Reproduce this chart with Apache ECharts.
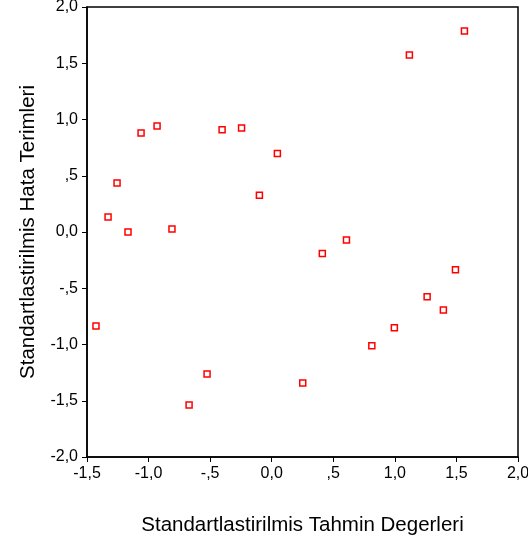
<!DOCTYPE html>
<html>
<head>
    <meta charset="utf-8">
    <title>Standart artik grafigi</title>
    <style>
        html, body { margin: 0; padding: 0; background: #fff; }
        #main { width: 528px; height: 541px; }
    </style>
</head>
<body>
    <div id="main"></div>
    <script src="https://cdn.jsdelivr.net/npm/echarts@6/dist/echarts.min.js"></script>
    <script>
        // tahmin (x) ve hata (y) degerleri
        var predicted = [-1.427, -1.329, -1.256, -1.167, -1.061, -0.931, -0.81, -0.671, -0.525, -0.403, -0.245,
                         0.046, -0.10, 0.252, 0.411, 0.607, 0.813, 0.996, 1.262, 1.394, 1.492, 1.118, 1.565];
        var residuals = [-0.836, 0.133, 0.436, 0.0, 0.88, 0.942, 0.027, -1.538, -1.262, 0.909, 0.924,
                         0.698, 0.326, -1.342, -0.19, -0.071, -1.01, -0.85, -0.575, -0.693, -0.335, 1.573, 1.787];
        var xTicks = [-1.5, 2.0, 0.5];   // min, max, aralik
        var yTicks = [-2.0, 2.0, 0.5];

        var points = predicted.map(function (x, i) { return [x, residuals[i]]; });

        // SPSS tarzi: 0,5 -> ",5"  -0,5 -> "-,5"
        function fmt(v) {
            var s = Math.abs(v).toFixed(1).replace('.', ',');
            if (Math.abs(v) < 1 && v !== 0) s = s.substring(1);
            return (v < 0 ? '-' : '') + s;
        }

        var font = 'Liberation Sans, Arial, sans-serif';
        var chart = echarts.init(document.getElementById('main'));
        var option = {
            animation: false,
            grid: {
                left: 87, top: 7, right: 10, bottom: 84,
                outerBoundsMode: 'none',
                show: true, borderColor: '#000', borderWidth: 1.5, backgroundColor: '#fff'
            },
            xAxis: {
                type: 'value',
                min: xTicks[0], max: xTicks[1], interval: xTicks[2],
                name: 'Standartlastirilmis Tahmin Degerleri',
                nameLocation: 'middle', nameGap: 58,
                nameTextStyle: { fontFamily: font, fontSize: 20.5, color: '#000' },
                axisLine: { onZero: false, lineStyle: { color: '#000', width: 1.5 } },
                axisTick: { length: 5, lineStyle: { color: '#000' } },
                axisLabel: { formatter: fmt, fontFamily: font, fontSize: 16, color: '#000', margin: 9 },
                splitLine: { show: false }
            },
            yAxis: {
                type: 'value',
                min: yTicks[0], max: yTicks[1], interval: yTicks[2],
                name: 'Standartlastirilmis Hata Terimleri',
                nameLocation: 'middle', nameGap: 48, nameRotate: 90,
                nameTextStyle: { fontFamily: font, fontSize: 20.5, color: '#000' },
                axisLine: { onZero: false, lineStyle: { color: '#000', width: 1.5 } },
                axisTick: { length: 5, lineStyle: { color: '#000' } },
                axisLabel: { formatter: fmt, fontFamily: font, fontSize: 16, color: '#000', margin: 9 },
                splitLine: { show: false }
            },
            series: [{
                type: 'scatter',
                data: points,
                symbol: 'rect',
                symbolSize: 6,
                itemStyle: { color: '#fff', borderColor: '#ff0000', borderWidth: 1.5, opacity: 1 }
            }]
        };
        chart.setOption(option);
    </script>
</body>
</html>
